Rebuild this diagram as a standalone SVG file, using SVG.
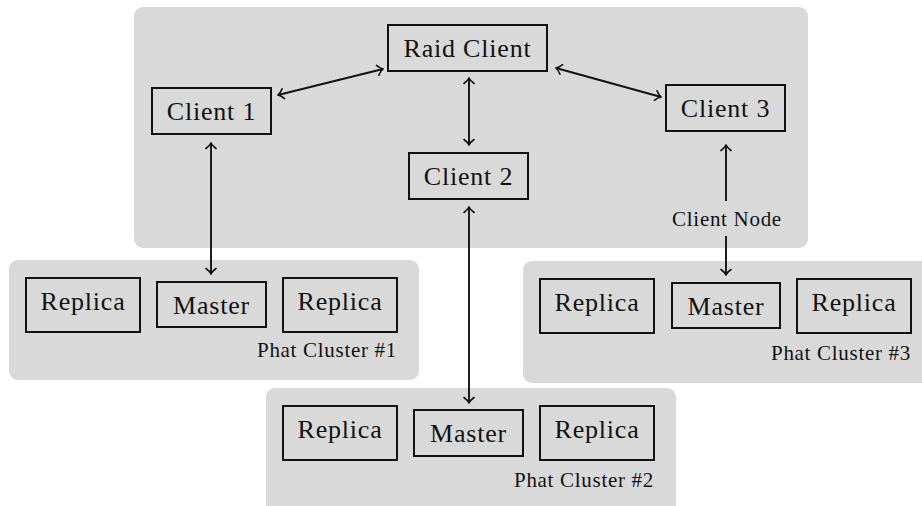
<svg xmlns="http://www.w3.org/2000/svg" width="922" height="506" viewBox="0 0 922 506">
  <style>
    .panel { fill: #d9d9d9; stroke: none; }
    .box { fill: none; stroke: #111; stroke-width: 2; }
    .lbl { font-family: "Liberation Serif", "DejaVu Serif", serif; font-size: 26px; letter-spacing: 0.8px; fill: #111; text-anchor: middle; }
    .small { font-family: "Liberation Serif", "DejaVu Serif", serif; font-size: 21px; letter-spacing: 0.7px; fill: #111; }
    .conn { fill: none; stroke: #111; stroke-width: 1.9; }
  </style>
  <defs>
    <marker id="tip" viewBox="-7 -6 8 12" refX="0" refY="0" markerWidth="8" markerHeight="12" markerUnits="userSpaceOnUse" orient="auto-start-reverse">
      <path d="M-5.5,-5 C-3.5,-2.2 -1.2,-0.6 0,0 C-1.2,0.6 -3.5,2.2 -5.5,5" fill="none" stroke="#111" stroke-width="1.6" stroke-linecap="round"/>
    </marker>
  </defs>

  <!-- background panels -->
  <g id="client-node-panel">
    <rect class="panel" x="134" y="7" width="674" height="241" rx="9"/>
    <text class="small" x="727" y="226" text-anchor="middle">Client Node</text>
  </g>
  <g id="cluster-1-panel">
    <rect class="panel" x="9" y="260" width="410" height="120" rx="9"/>
    <text class="small" x="397" y="357" text-anchor="end">Phat Cluster #1</text>
  </g>
  <g id="cluster-2-panel">
    <rect class="panel" x="266" y="388" width="410" height="130" rx="9"/>
    <text class="small" x="654" y="487" text-anchor="end">Phat Cluster #2</text>
  </g>
  <g id="cluster-3-panel">
    <rect class="panel" x="523" y="261" width="410" height="122" rx="9"/>
    <text class="small" x="911" y="360" text-anchor="end">Phat Cluster #3</text>
  </g>

  <!-- client nodes -->
  <g id="raid-client">
    <rect class="box" x="388" y="25" width="159" height="46"/>
    <text class="lbl" x="467.5" y="57">Raid Client</text>
  </g>
  <g id="client-1">
    <rect class="box" x="152" y="88" width="119" height="46"/>
    <text class="lbl" x="211.5" y="120">Client 1</text>
  </g>
  <g id="client-2">
    <rect class="box" x="409" y="153" width="119" height="46"/>
    <text class="lbl" x="468.5" y="185">Client 2</text>
  </g>
  <g id="client-3">
    <rect class="box" x="666" y="85" width="119" height="46"/>
    <text class="lbl" x="725.5" y="117">Client 3</text>
  </g>

  <!-- cluster 1 -->
  <g id="c1-replica-a">
    <rect class="box" x="26" y="278" width="114" height="54"/>
    <text class="lbl" x="83" y="310">Replica</text>
  </g>
  <g id="c1-master">
    <rect class="box" x="157" y="282" width="109" height="45"/>
    <text class="lbl" x="211.5" y="314">Master</text>
  </g>
  <g id="c1-replica-b">
    <rect class="box" x="283" y="278" width="114" height="54"/>
    <text class="lbl" x="340" y="310">Replica</text>
  </g>

  <!-- cluster 2 -->
  <g id="c2-replica-a">
    <rect class="box" x="283" y="406" width="114" height="54"/>
    <text class="lbl" x="340" y="438">Replica</text>
  </g>
  <g id="c2-master">
    <rect class="box" x="414" y="410" width="109" height="46"/>
    <text class="lbl" x="468.5" y="442">Master</text>
  </g>
  <g id="c2-replica-b">
    <rect class="box" x="540" y="406" width="114" height="54"/>
    <text class="lbl" x="597" y="438">Replica</text>
  </g>

  <!-- cluster 3 -->
  <g id="c3-replica-a">
    <rect class="box" x="540" y="279" width="114" height="54"/>
    <text class="lbl" x="597" y="311">Replica</text>
  </g>
  <g id="c3-master">
    <rect class="box" x="672" y="283" width="108" height="45"/>
    <text class="lbl" x="726" y="315">Master</text>
  </g>
  <g id="c3-replica-b">
    <rect class="box" x="797" y="279" width="114" height="54"/>
    <text class="lbl" x="854" y="311">Replica</text>
  </g>

  <!-- connectors -->
  <g id="connectors">
    <line class="conn" x1="278" y1="95" x2="383" y2="69" marker-start="url(#tip)" marker-end="url(#tip)"/>
    <line class="conn" x1="556" y1="68" x2="661" y2="97" marker-start="url(#tip)" marker-end="url(#tip)"/>
    <line class="conn" x1="469" y1="78" x2="469" y2="145" marker-start="url(#tip)" marker-end="url(#tip)"/>
    <line class="conn" x1="211" y1="143" x2="211" y2="274" marker-start="url(#tip)" marker-end="url(#tip)"/>
    <line class="conn" x1="469" y1="207" x2="469" y2="403" marker-start="url(#tip)" marker-end="url(#tip)"/>
    <line class="conn" x1="726" y1="201" x2="726" y2="145" marker-end="url(#tip)"/>
    <line class="conn" x1="726" y1="236" x2="726" y2="275" marker-end="url(#tip)"/>
  </g>
</svg>
